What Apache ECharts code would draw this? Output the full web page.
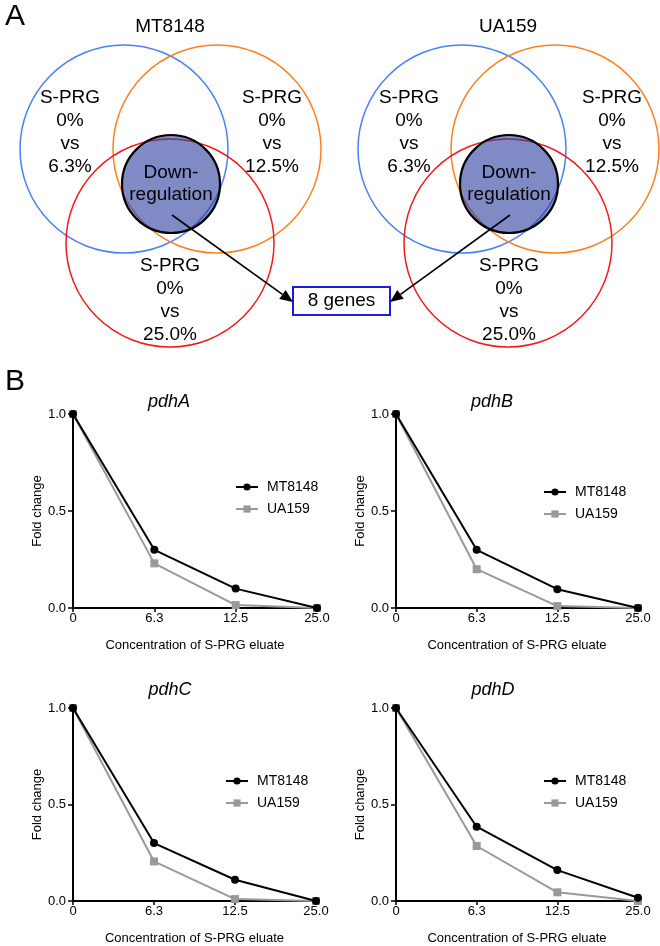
<!DOCTYPE html>
<html><head><meta charset="utf-8">
<script src="https://cdn.jsdelivr.net/npm/echarts@6/dist/echarts.min.js"></script>
<style>html,body{margin:0;padding:0;background:#fff}#c{width:660px;height:946px}</style>
</head><body><div id="c"></div>
<script>
// ---- data ----
const categories = ['0', '6.3', '12.5', '25.0'];
const yTicks = [0, 0.5, 1.0];
const seriesNames = ['MT8148', 'UA159'];
const genes = ['pdhA', 'pdhB', 'pdhC', 'pdhD'];
const pdhA_MT8148 = [1.0, 0.30, 0.10, 0.0];
const pdhA_UA159  = [1.0, 0.23, 0.015, 0.0];
const pdhB_MT8148 = [1.0, 0.30, 0.097, 0.0];
const pdhB_UA159  = [1.0, 0.20, 0.01, 0.0];
const pdhC_MT8148 = [1.0, 0.30, 0.11, 0.0];
const pdhC_UA159  = [1.0, 0.205, 0.01, 0.0];
const pdhD_MT8148 = [1.0, 0.385, 0.16, 0.017];
const pdhD_UA159  = [1.0, 0.285, 0.045, 0.0];
const vennStrains = ['MT8148', 'UA159'];
const vennSetLabels = ['S-PRG\n0%\nvs\n6.3%', 'S-PRG\n0%\nvs\n12.5%', 'S-PRG\n0%\nvs\n25.0%'];
const vennCore = 'Down-\nregulation';
const resultLabel = '8 genes';

const FONT = 'Liberation Sans, Arial, Helvetica, sans-serif';
const chart = echarts.init(document.getElementById('c'), null, {renderer: 'canvas'});

const valuesMT = [pdhA_MT8148, pdhB_MT8148, pdhC_MT8148, pdhD_MT8148];
const valuesUA = [pdhA_UA159, pdhB_UA159, pdhC_UA159, pdhD_UA159];

const grids = [
  {left: 73, top: 414, width: 244, height: 194},
  {left: 396, top: 414, width: 242, height: 194},
  {left: 73, top: 708, width: 243, height: 194},
  {left: 396, top: 708, width: 242, height: 194}
];
const titlePos = [[169, 402], [492, 402], [170, 690], [493, 690]];
const legendPos = [[235, 480], [543, 485], [225, 774], [543, 774]];

const xAxes = [], yAxes = [], series = [], legends = [];
grids.forEach((g, i) => {
  xAxes.push({
    type: 'category', gridIndex: i, data: categories, boundaryGap: false,
    axisLine: {lineStyle: {color: '#000', width: 2}},
    axisTick: {show: true, alignWithLabel: true, length: 4, lineStyle: {color: '#000', width: 1.5}},
    axisLabel: {color: '#000', fontSize: 13, fontFamily: FONT, margin: 4, interval: 0},
    name: 'Concentration of S-PRG eluate', nameLocation: 'middle', nameGap: 31,
    nameTextStyle: {color: '#000', fontSize: 13, fontFamily: FONT},
    splitLine: {show: false}
  });
  yAxes.push({
    type: 'value', gridIndex: i, min: yTicks[0], max: yTicks[yTicks.length - 1], interval: 0.5,
    axisLine: {show: true, lineStyle: {color: '#000', width: 2}},
    axisTick: {show: true, length: 5, lineStyle: {color: '#000', width: 1.5}},
    axisLabel: {color: '#000', fontSize: 13, fontFamily: FONT, margin: 7,
      formatter: v => v.toFixed(1)},
    name: 'Fold change', nameLocation: 'middle', nameGap: 29,
    nameTextStyle: {color: '#000', fontSize: 13, fontFamily: FONT},
    splitLine: {show: false}
  });
  series.push({
    name: seriesNames[1], type: 'line', xAxisIndex: i, yAxisIndex: i, data: valuesUA[i],
    symbol: 'rect', symbolSize: 8, lineStyle: {color: '#999', width: 2},
    itemStyle: {color: '#999'}, z: 2, animation: false
  });
  series.push({
    name: seriesNames[0], type: 'line', xAxisIndex: i, yAxisIndex: i, data: valuesMT[i],
    symbol: 'circle', symbolSize: 8, lineStyle: {color: '#000', width: 2},
    itemStyle: {color: '#000'}, z: 3, animation: false
  });
  legends.push({
    data: seriesNames, orient: 'vertical', left: legendPos[i][0], top: legendPos[i][1],
    padding: 0, itemWidth: 22, itemHeight: 9, itemGap: 8, selectedMode: false,
    textStyle: {color: '#000', fontSize: 14, fontFamily: FONT, padding: [0, 0, 0, 4]}
  });
});

// ---- Venn diagram graphics ----
const elements = [];
function txt(x, y, text, size, extra) {
  elements.push({type: 'text', x: x, y: y, z: 20,
    style: Object.assign({text: text, fill: '#000', font: size + 'px ' + FONT,
      textAlign: 'center', textVerticalAlign: 'middle'}, extra || {})});
}
function circle(cx, cy, r, stroke, fill, lw, z) {
  elements.push({type: 'circle', shape: {cx: cx, cy: cy, r: r}, z: z,
    style: {stroke: stroke, fill: fill, lineWidth: lw}});
}
function arrow(x1, y1, x2, y2) {
  const a = Math.atan2(y2 - y1, x2 - x1), L = 13, W = 5.5;
  const bx = x2 - L * Math.cos(a), by = y2 - L * Math.sin(a);
  elements.push({type: 'line', z: 12, shape: {x1: x1, y1: y1, x2: bx, y2: by},
    style: {stroke: '#000', lineWidth: 1.6}});
  elements.push({type: 'polygon', z: 12, shape: {points: [[x2, y2],
    [bx + W * Math.sin(a), by - W * Math.cos(a)], [bx - W * Math.sin(a), by + W * Math.cos(a)]]},
    style: {fill: '#000'}});
}
const venns = [
  {dx: 0, title: [170, 27], texts: [[70, 132], [272, 132], [170, 300]], core: [171, 184]},
  {dx: 338, title: [508, 27], texts: [[409, 132], [612, 132], [509, 300]], core: [509, 184]}
];
venns.forEach((v, k) => {
  txt(v.title[0], v.title[1], vennStrains[k], 19);
  circle(v.core[0], v.core[1], 49, '#000', 'rgba(43,60,157,0.6)', 2.2, 5);
  circle(124 + v.dx, 149, 104, '#4a7ff5', 'none', 1.5, 4);
  circle(217 + v.dx, 149, 104, '#ff7f1f', 'none', 1.5, 4);
  circle(170 + v.dx, 243, 104, '#f21a1a', 'none', 1.5, 4);
  v.texts.forEach((p, j) => txt(p[0], p[1], vennSetLabels[j], 19, {lineHeight: 23}));
  txt(v.core[0], v.core[1], vennCore, 19, {lineHeight: 22});
});
arrow(172, 215, 293, 302);
arrow(510, 215, 390, 302);
elements.push({type: 'rect', z: 11, shape: {x: 293, y: 287, width: 97, height: 28},
  style: {stroke: '#1a1ae0', fill: '#fff', lineWidth: 2}});
txt(341.5, 301, resultLabel, 19, {});
txt(15, 17, 'A', 30, {});
txt(15, 382, 'B', 30, {});
genes.forEach((gname, i) => txt(titlePos[i][0], titlePos[i][1], gname, 18,
  {font: 'italic 18px ' + FONT}));

chart.setOption({
  animation: false,
  backgroundColor: '#fff',
  grid: grids,
  xAxis: xAxes,
  yAxis: yAxes,
  legend: legends,
  series: series,
  graphic: {elements: elements}
});
</script></body></html>
